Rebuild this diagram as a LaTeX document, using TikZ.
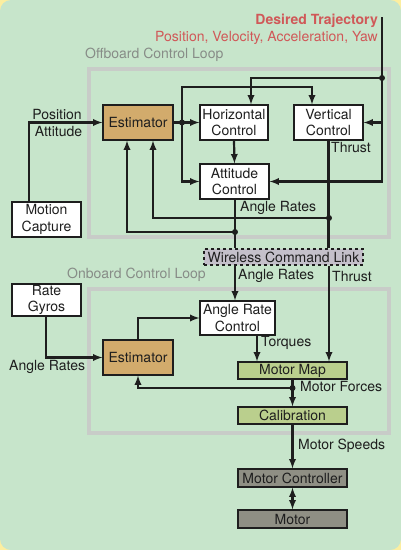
\documentclass[tikz,border=0pt]{standalone}
\usepackage{fontspec}
\setmainfont{TeX Gyre Heros}
\usetikzlibrary{arrows}
\definecolor{bggreen}{RGB}{199,229,203}
\definecolor{bgyellow}{RGB}{252,238,160}
\definecolor{estbrown}{RGB}{210,171,108}
\definecolor{mapgreen}{RGB}{186,207,141}
\definecolor{motorgray}{RGB}{143,143,132}
\definecolor{linkgray}{RGB}{196,192,202}
\definecolor{trajred}{RGB}{208,88,88}
\definecolor{loopgray}{RGB}{200,204,200}
\definecolor{looptext}{RGB}{135,140,135}
\definecolor{inkcolor}{RGB}{30,30,30}

\begin{document}
\begin{tikzpicture}[x=1pt,y=-1pt,>=latex,
  every node/.style={font=\fontsize{14}{16.5}\selectfont,text=inkcolor},
  blk/.style={draw=inkcolor,fill=white,line width=1.1pt,align=center,inner sep=0pt},
  wire/.style={draw=inkcolor,line width=2.2pt},
  lbl/.style={inner sep=1pt,anchor=west},
  dot/.style={fill=inkcolor,circle,inner sep=0pt,minimum size=6pt}]
  \useasboundingbox (0,0) rectangle (401,550);
  \fill[bgyellow] (0,0) rectangle (401,550);
  \fill[bggreen,rounded corners=11pt] (0,0) rectangle (401,550);
  \draw[loopgray,line width=4pt] (89,69) rectangle (389,237);
  \draw[loopgray,line width=4pt] (89,289) rectangle (389,433);
  \node[lbl,text=looptext] (offlbl) at (84,55) {Offboard Control Loop};
  \node[lbl,text=looptext] (onlbl) at (66,275) {Onboard Control Loop};
  \node[lbl,anchor=east,text=trajred,font=\fontsize{14}{16.5}\selectfont\bfseries] (dt1) at (379,21) {Desired Trajectory};
  \node[lbl,anchor=east,text=trajred] (dt2) at (379,38) {Position, Velocity, Acceleration, Yaw};
  \node[blk,fill=estbrown,minimum width=70pt,minimum height=35pt] (E1) at (138,122.5) {Estimator};
  \node[blk,minimum width=68pt,minimum height=35pt] (HC) at (234,122.5) {Horizontal\\Control};
  \node[blk,minimum width=69pt,minimum height=35pt] (VC) at (328.5,122.5) {Vertical\\Control};
  \node[blk,minimum width=69pt,minimum height=35pt] (AC) at (234.5,181.5) {Attitude\\Control};
  \node[blk,minimum width=69pt,minimum height=35pt] (MC) at (46.5,219.5) {Motion\\Capture};
  \node[blk,fill=linkgray,dashed,minimum width=159pt,minimum height=16pt] (WL) at (283.5,257) {Wireless Command Link};
  \node[blk,minimum width=69pt,minimum height=32pt] (RG) at (46.5,300) {Rate\\Gyros};
  \node[blk,fill=estbrown,minimum width=70pt,minimum height=35pt] (E2) at (138,357.5) {Estimator};
  \node[blk,minimum width=75pt,minimum height=34pt] (ARC) at (237.5,318) {Angle Rate\\Control};
  \node[blk,fill=mapgreen,minimum width=109pt,minimum height=17pt] (MM) at (292.5,370.5) {Motor Map};
  \node[blk,fill=mapgreen,minimum width=109pt,minimum height=17pt] (CAL) at (292.5,415.5) {Calibration};
  \node[blk,fill=motorgray,minimum width=109pt,minimum height=18pt] (MCT) at (292.5,478) {Motor Controller};
  \node[blk,fill=motorgray,minimum width=109pt,minimum height=18pt] (MOT) at (292.5,519) {Motor};
  \coordinate (DT) at (382,17);
  \coordinate (J1) at (382,78);
  \coordinate (J3) at (182,122.5);
  \coordinate (J4) at (329,218);
  \coordinate (J5) at (235,232);
  \coordinate (J6) at (292.5,388);
  \draw[wire,->] (DT) |- (AC.east);
  \draw[wire,->] (J1) -| ([xshift=17pt]HC.north);
  \draw[wire,->] (VC.east -| J1) -- (VC.east);
  \draw[wire,->] ([xshift=-17.5pt]MC.north) |- (E1.west);
  \draw[wire,->] (E1.east) -- (HC.west);
  \draw[wire,->] (J3) |- (AC.west);
  \draw[wire,->] (J3) -- (182,87) -| ([xshift=-16.5pt]VC.north);
  \draw[wire,->] (HC.south) -- (AC.north);
  \draw[wire] (VC.south) -- (VC.south |- WL.north);
  \draw[wire,->] (J4) -| ([xshift=15pt]E1.south);
  \draw[wire] ([xshift=0.5pt]AC.south) -- ([xshift=0.5pt]AC.south |- WL.north);
  \draw[wire,->] (J5) -| ([xshift=-11pt]E1.south);
  \draw[wire,->] (WL.south -| J5) -- (ARC.north -| J5);
  \draw[wire,->] (WL.south -| J4) -- (MM.north -| J4);
  \draw[wire,->] ([xshift=-0.5pt]RG.south) |- (E2.west);
  \draw[wire,->] (E2.north) |- (ARC.west);
  \draw[wire,->] ([xshift=19.5pt]ARC.south) -- ([xshift=19.5pt]ARC.south |- MM.north);
  \draw[wire,->] (MM.south) -- (CAL.north);
  \draw[wire,->] (J6) -| (E2.south);
  \draw[wire,->] (CAL.south) -- (MCT.north);
  \draw[wire,<->] (MCT.south) -- (MOT.north);
  \node[dot] (d1) at (J1) {};
  \node[dot] (d3) at (J3) {};
  \node[dot] (d4) at (J4) {};
  \node[dot] (d5) at (J5) {};
  \node[dot] (d6) at (J6) {};
  \node[lbl,anchor=center] (pos) at (57,114) {Position};
  \node[lbl,anchor=center] (att) at (58.5,131) {Attitude};
  \node[lbl] (th1) at (330,147) {Thrust};
  \node[lbl] (ar1) at (239,208) {Angle Rates};
  \node[lbl] (ar2) at (237,276) {Angle Rates};
  \node[lbl] (th2) at (331,276) {Thrust};
  \node[lbl] (ar3) at (8,367) {Angle Rates};
  \node[lbl] (tq) at (260,343) {Torques};
  \node[lbl] (mf) at (299,386) {Motor Forces};
  \node[lbl] (ms) at (297,446) {Motor Speeds};
\end{tikzpicture}
\end{document}
